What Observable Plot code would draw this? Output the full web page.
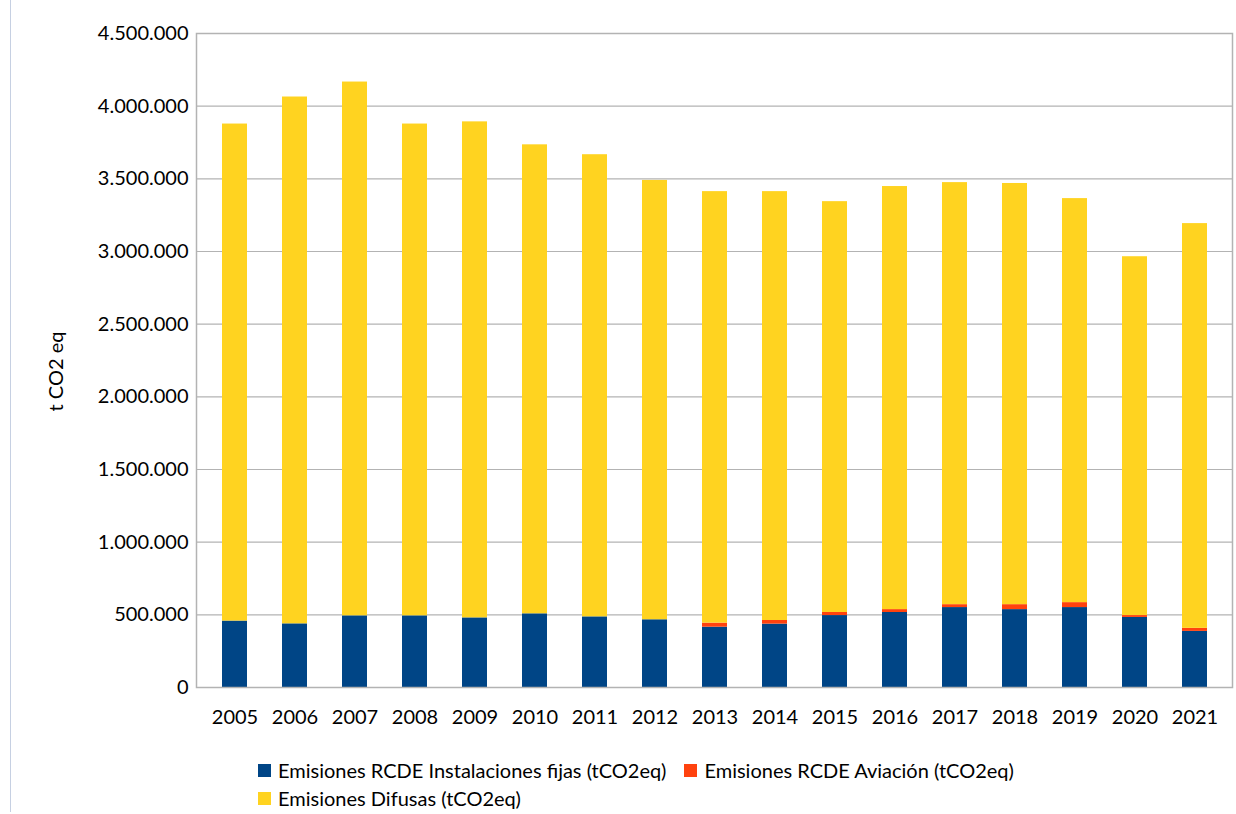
<!DOCTYPE html>
<html>
<head>
<meta charset="utf-8">
<script src="https://cdn.jsdelivr.net/npm/d3@7"></script>
<script src="https://cdn.jsdelivr.net/npm/@observablehq/plot@0.6"></script>
<style>
  html, body { margin: 0; padding: 0; background: #fff; }
  #wrap { position: relative; width: 1236px; height: 814px; overflow: hidden; font-family: Lato, "Open Sans", sans-serif; }
  #edge { position: absolute; left: 10px; top: 0; width: 0; height: 812px; border-left: 1px solid #c6d0e2; }
  #chart { position: absolute; left: 0; top: 0; }
  #legend { position: absolute; left: 258px; top: 759px; width: 790px; display: flex; flex-wrap: wrap; row-gap: 5px; font-size: 20px; color: #000; }
  .item { display: flex; align-items: center; margin-right: 18px; line-height: 23px; }
  .sw { width: 13px; height: 13px; margin-right: 7px; }
</style>
</head>
<body>
<div id="wrap">
  <div id="edge"></div>
  <div id="chart"></div>
  <div id="legend"></div>
</div>
<script>
const years = ["2005","2006","2007","2008","2009","2010","2011","2012","2013","2014","2015","2016","2017","2018","2019","2020","2021"];
const seriesNames = ["Emisiones RCDE Instalaciones fijas (tCO2eq)", "Emisiones RCDE Aviación (tCO2eq)", "Emisiones Difusas (tCO2eq)"];
const seriesColors = ["#004586", "#ff420e", "#ffd320"];
const fijas = [457000, 438000, 493000, 493000, 479000, 507000, 486000, 466000, 415000, 436000, 495000, 516000, 550000, 536000, 550000, 482000, 386000];
const aviacion = [0, 0, 0, 0, 0, 0, 0, 0, 28000, 25000, 21000, 20000, 20000, 34000, 34000, 13000, 21000];
const difusas = [3420000, 3625000, 3673000, 3384000, 3413000, 3227000, 3180000, 3023000, 2969000, 2951000, 2827000, 2911000, 2904000, 2898000, 2780000, 2469000, 2785000];
const yTicks = [0, 500000, 1000000, 1500000, 2000000, 2500000, 3000000, 3500000, 4000000, 4500000];
const yLabel = "t CO2 eq";

const seriesValues = [fijas, aviacion, difusas];
const data = [];
years.forEach((yr, i) => {
  seriesNames.forEach((s, k) => data.push({year: yr, series: s, value: seriesValues[k][i]}));
});

const fmt = d3.formatLocale({decimal: ",", thousands: ".", grouping: [3], currency: ["", "€"]}).format(",");

const chart = Plot.plot({
  width: 1236,
  height: 745,
  marginLeft: 196,
  marginRight: 4,
  marginTop: 33,
  marginBottom: 58,
  style: {fontFamily: "Lato, 'Open Sans', sans-serif", fontSize: "20px", color: "#000", background: "transparent"},
  x: {domain: years, paddingInner: 0.59, paddingOuter: 0.295, label: null},
  y: {domain: [0, 4500000], label: null},
  color: {domain: seriesNames, range: seriesColors},
  marks: [
    Plot.gridY(yTicks, {stroke: "#b3b3b3", strokeOpacity: 1, strokeWidth: 1.2}),
    Plot.barY(data, {x: "year", y: "value", fill: "series"}),
    Plot.frame({stroke: "#b3b3b3", strokeWidth: 1.5}),
    Plot.axisY(yTicks, {tickSize: 0, tickPadding: 8, tickFormat: fmt, label: yLabel, labelArrow: "none", labelAnchor: "center", labelOffset: 148, fontSize: 20}),
    Plot.axisX({tickSize: 0, tickPadding: 22, label: null, fontSize: 20})
  ]
});
// make sure the axis label carries no arrow glyph, and nudge it down slightly
chart.querySelectorAll("text").forEach(t => {
  if (t.textContent.includes("→") || t.textContent.includes("↑")) t.textContent = t.textContent.replace(/\s*[→↑]\s*/g, "").trim();
});
const lab = chart.querySelector('[aria-label="y-axis label"]');
if (lab) {
  const tr = lab.getAttribute("transform") || "";
  lab.setAttribute("transform", (tr + " translate(0,11)").trim());
}
document.getElementById("chart").appendChild(chart);

const legend = document.getElementById("legend");
seriesNames.forEach((s, k) => {
  const it = document.createElement("div");
  it.className = "item";
  const sw = document.createElement("span");
  sw.className = "sw";
  sw.style.background = seriesColors[k];
  const tx = document.createElement("span");
  tx.textContent = s;
  it.appendChild(sw); it.appendChild(tx);
  legend.appendChild(it);
});
</script>
</body>
</html>
